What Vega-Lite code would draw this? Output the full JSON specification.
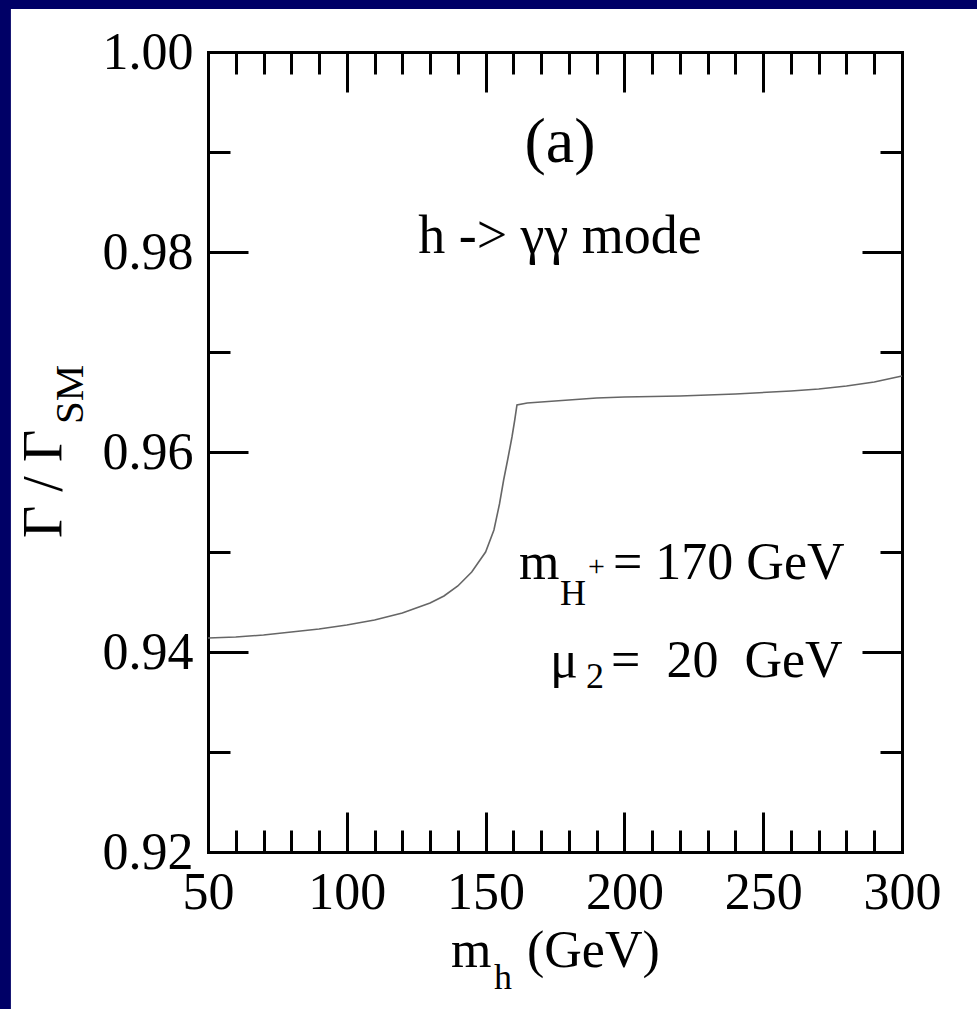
{
  "$schema": "https://vega.github.io/schema/vega-lite/v6.json",
  "width": 694,
  "height": 800,
  "autosize": {"type": "none"},
  "padding": {"left": 208, "top": 52, "right": 75, "bottom": 157},
  "background": "white",
  "config": {
    "view": {"stroke": null},
    "axis": {"grid": false, "labelFont": "Liberation Serif", "labelColor": "black", "labelFontSize": 52, "tickColor": "black", "tickWidth": 3, "domainColor": "black", "domainWidth": 3, "domainCap": "square", "labelFlush": false, "labelOverlap": false, "labelBound": false}
  },
  "datasets": {
    "curve": [
      {"m": 50, "r": 0.9414}, {"m": 60, "r": 0.9415}, {"m": 70, "r": 0.9417}, {"m": 80, "r": 0.9420},
      {"m": 90, "r": 0.9423}, {"m": 100, "r": 0.9427}, {"m": 110, "r": 0.9432}, {"m": 120, "r": 0.9439},
      {"m": 130, "r": 0.9449}, {"m": 135, "r": 0.9456}, {"m": 140, "r": 0.9466}, {"m": 145, "r": 0.9480},
      {"m": 150, "r": 0.9500}, {"m": 153, "r": 0.9522}, {"m": 155, "r": 0.9548}, {"m": 156.5, "r": 0.9572},
      {"m": 158, "r": 0.9593}, {"m": 159.5, "r": 0.9615}, {"m": 160.5, "r": 0.9632}, {"m": 161.3, "r": 0.9647},
      {"m": 165, "r": 0.9649}, {"m": 170, "r": 0.9650}, {"m": 180, "r": 0.9652}, {"m": 190, "r": 0.9654},
      {"m": 200, "r": 0.9655}, {"m": 220, "r": 0.9656}, {"m": 240, "r": 0.9658}, {"m": 260, "r": 0.9661},
      {"m": 270, "r": 0.9663}, {"m": 280, "r": 0.9666}, {"m": 290, "r": 0.9670}, {"m": 300, "r": 0.9676}
    ],
    "mainText": [
      {"x": 162.0, "y": 0.9473, "t": "m"},
      {"x": 195.9, "y": 0.9473, "t": "= 170 GeV"},
      {"x": 173.2, "y": 0.9375, "t": "μ"},
      {"x": 195.2, "y": 0.9375, "t": "=\u00a0\u00a020\u00a0\u00a0GeV"},
      {"x": 137.5, "y": 0.9085, "t": "m"},
      {"x": 164.9, "y": 0.9085, "t": "(GeV)"}
    ],
    "labelA": [
      {"x": 176.8, "y": 0.9890, "t": "(a)"}
    ],
    "modeText": [
      {"x": 176.8, "y": 0.9799, "t": "h -> γγ mode"}
    ],
    "subText": [
      {"x": 176.8, "y": 0.9447, "t": "H"},
      {"x": 186.2, "y": 0.9364, "t": "2"},
      {"x": 153.0, "y": 0.9063, "t": "h"}
    ],
    "supText": [
      {"x": 186.9, "y": 0.9476, "t": "+"}
    ],
    "yTitle": [
      {"x": -2.6, "y": 0.9514, "t": "Γ / Γ"}
    ],
    "yTitleSub": [
      {"x": 4.97, "y": 0.9628, "t": "SM"}
    ]
  },
  "resolve": {"axis": {"x": "independent", "y": "independent"}},
  "layer": [
    {
      "data": {"values": [{"edge": "left"}]},
      "mark": {"type": "rect", "color": "#000066", "clip": false},
      "encoding": {
        "x": {"datum": -200, "type": "quantitative", "scale": {"domain": [50, 300], "nice": false, "zero": false}, "axis": null},
        "x2": {"datum": -21},
        "y": {"datum": 0.8, "type": "quantitative", "scale": {"domain": [0.92, 1.0], "nice": false, "zero": false}, "axis": null},
        "y2": {"datum": 1.1}
      }
    },
    {
      "data": {"values": [{"edge": "top"}]},
      "mark": {"type": "rect", "color": "#000066", "clip": false},
      "encoding": {
        "x": {"datum": -200, "type": "quantitative", "scale": {"domain": [50, 300], "nice": false, "zero": false}, "axis": null},
        "x2": {"datum": 450},
        "y": {"datum": 1.0043, "type": "quantitative", "scale": {"domain": [0.92, 1.0], "nice": false, "zero": false}, "axis": null},
        "y2": {"datum": 1.1}
      }
    },
    {
      "data": {"name": "curve"},
      "mark": {"type": "line", "stroke": "#666666", "strokeWidth": 1.6, "clip": false},
      "encoding": {
        "x": {"field": "m", "type": "quantitative", "scale": {"domain": [50, 300], "nice": false, "zero": false},
              "axis": {"orient": "bottom", "title": null, "values": [50, 100, 150, 200, 250, 300], "format": "d", "ticks": false, "labelPadding": 15, "domain": true}},
        "y": {"field": "r", "type": "quantitative", "scale": {"domain": [0.92, 1.0], "nice": false, "zero": false},
              "axis": {"orient": "left", "title": null, "values": [0.92, 0.94, 0.96, 0.98, 1.0], "format": ".2f", "ticks": false, "labelPadding": 15, "domain": true}}
      }
    },
    {
      "data": {"name": "curve"},
      "mark": {"type": "point", "opacity": 0},
      "encoding": {
        "x": {"field": "m", "type": "quantitative", "scale": {"domain": [50, 300], "nice": false, "zero": false},
              "axis": {"orient": "bottom", "title": null, "values": [100, 150, 200, 250], "labels": false, "domain": false, "tickSize": -40}},
        "y": {"field": "r", "type": "quantitative", "scale": {"domain": [0.92, 1.0], "nice": false, "zero": false},
              "axis": {"orient": "left", "title": null, "values": [0.94, 0.96, 0.98], "labels": false, "domain": false, "tickSize": -40}}
      }
    },
    {
      "data": {"name": "curve"},
      "mark": {"type": "point", "opacity": 0},
      "encoding": {
        "x": {"field": "m", "type": "quantitative", "scale": {"domain": [50, 300], "nice": false, "zero": false},
              "axis": {"orient": "bottom", "title": null, "values": [60, 70, 80, 90, 110, 120, 130, 140, 160, 170, 180, 190, 210, 220, 230, 240, 260, 270, 280, 290], "labels": false, "domain": false, "tickSize": -22}},
        "y": {"field": "r", "type": "quantitative", "scale": {"domain": [0.92, 1.0], "nice": false, "zero": false},
              "axis": {"orient": "left", "title": null, "values": [0.93, 0.95, 0.97, 0.99], "labels": false, "domain": false, "tickSize": -22}}
      }
    },
    {
      "data": {"name": "curve"},
      "mark": {"type": "point", "opacity": 0},
      "encoding": {
        "x": {"field": "m", "type": "quantitative", "scale": {"domain": [50, 300], "nice": false, "zero": false},
              "axis": {"orient": "top", "title": null, "values": [100, 150, 200, 250], "labels": false, "domain": true, "tickSize": -40}},
        "y": {"field": "r", "type": "quantitative", "scale": {"domain": [0.92, 1.0], "nice": false, "zero": false},
              "axis": {"orient": "right", "title": null, "values": [0.94, 0.96, 0.98], "labels": false, "domain": true, "tickSize": -40}}
      }
    },
    {
      "data": {"name": "curve"},
      "mark": {"type": "point", "opacity": 0},
      "encoding": {
        "x": {"field": "m", "type": "quantitative", "scale": {"domain": [50, 300], "nice": false, "zero": false},
              "axis": {"orient": "top", "title": null, "values": [60, 70, 80, 90, 110, 120, 130, 140, 160, 170, 180, 190, 210, 220, 230, 240, 260, 270, 280, 290], "labels": false, "domain": false, "tickSize": -22}},
        "y": {"field": "r", "type": "quantitative", "scale": {"domain": [0.92, 1.0], "nice": false, "zero": false},
              "axis": {"orient": "right", "title": null, "values": [0.93, 0.95, 0.97, 0.99], "labels": false, "domain": false, "tickSize": -22}}
      }
    },
    {
      "data": {"name": "mainText"},
      "mark": {"type": "text", "font": "Liberation Serif", "fontSize": 52, "color": "black", "align": "left", "baseline": "alphabetic", "clip": false},
      "encoding": {
        "x": {"field": "x", "type": "quantitative", "scale": {"domain": [50, 300], "nice": false, "zero": false}, "axis": null},
        "y": {"field": "y", "type": "quantitative", "scale": {"domain": [0.92, 1.0], "nice": false, "zero": false}, "axis": null},
        "text": {"field": "t"}
      }
    },
    {
      "data": {"name": "labelA"},
      "mark": {"type": "text", "font": "Liberation Serif", "fontSize": 64, "color": "black", "align": "center", "baseline": "alphabetic", "clip": false},
      "encoding": {
        "x": {"field": "x", "type": "quantitative", "scale": {"domain": [50, 300], "nice": false, "zero": false}, "axis": null},
        "y": {"field": "y", "type": "quantitative", "scale": {"domain": [0.92, 1.0], "nice": false, "zero": false}, "axis": null},
        "text": {"field": "t"}
      }
    },
    {
      "data": {"name": "modeText"},
      "mark": {"type": "text", "font": "Liberation Serif", "fontSize": 54, "color": "black", "align": "center", "baseline": "alphabetic", "clip": false},
      "encoding": {
        "x": {"field": "x", "type": "quantitative", "scale": {"domain": [50, 300], "nice": false, "zero": false}, "axis": null},
        "y": {"field": "y", "type": "quantitative", "scale": {"domain": [0.92, 1.0], "nice": false, "zero": false}, "axis": null},
        "text": {"field": "t"}
      }
    },
    {
      "data": {"name": "subText"},
      "mark": {"type": "text", "font": "Liberation Serif", "fontSize": 36, "color": "black", "align": "left", "baseline": "alphabetic", "clip": false},
      "encoding": {
        "x": {"field": "x", "type": "quantitative", "scale": {"domain": [50, 300], "nice": false, "zero": false}, "axis": null},
        "y": {"field": "y", "type": "quantitative", "scale": {"domain": [0.92, 1.0], "nice": false, "zero": false}, "axis": null},
        "text": {"field": "t"}
      }
    },
    {
      "data": {"name": "supText"},
      "mark": {"type": "text", "font": "Liberation Serif", "fontSize": 30, "color": "black", "align": "left", "baseline": "alphabetic", "clip": false},
      "encoding": {
        "x": {"field": "x", "type": "quantitative", "scale": {"domain": [50, 300], "nice": false, "zero": false}, "axis": null},
        "y": {"field": "y", "type": "quantitative", "scale": {"domain": [0.92, 1.0], "nice": false, "zero": false}, "axis": null},
        "text": {"field": "t"}
      }
    },
    {
      "data": {"name": "yTitle"},
      "mark": {"type": "text", "font": "Liberation Serif", "fontSize": 56, "color": "black", "align": "left", "baseline": "alphabetic", "angle": 270, "clip": false},
      "encoding": {
        "x": {"field": "x", "type": "quantitative", "scale": {"domain": [50, 300], "nice": false, "zero": false}, "axis": null},
        "y": {"field": "y", "type": "quantitative", "scale": {"domain": [0.92, 1.0], "nice": false, "zero": false}, "axis": null},
        "text": {"field": "t"}
      }
    },
    {
      "data": {"name": "yTitleSub"},
      "mark": {"type": "text", "font": "Liberation Serif", "fontSize": 41, "color": "black", "align": "left", "baseline": "alphabetic", "angle": 270, "clip": false},
      "encoding": {
        "x": {"field": "x", "type": "quantitative", "scale": {"domain": [50, 300], "nice": false, "zero": false}, "axis": null},
        "y": {"field": "y", "type": "quantitative", "scale": {"domain": [0.92, 1.0], "nice": false, "zero": false}, "axis": null},
        "text": {"field": "t"}
      }
    }
  ]
}
